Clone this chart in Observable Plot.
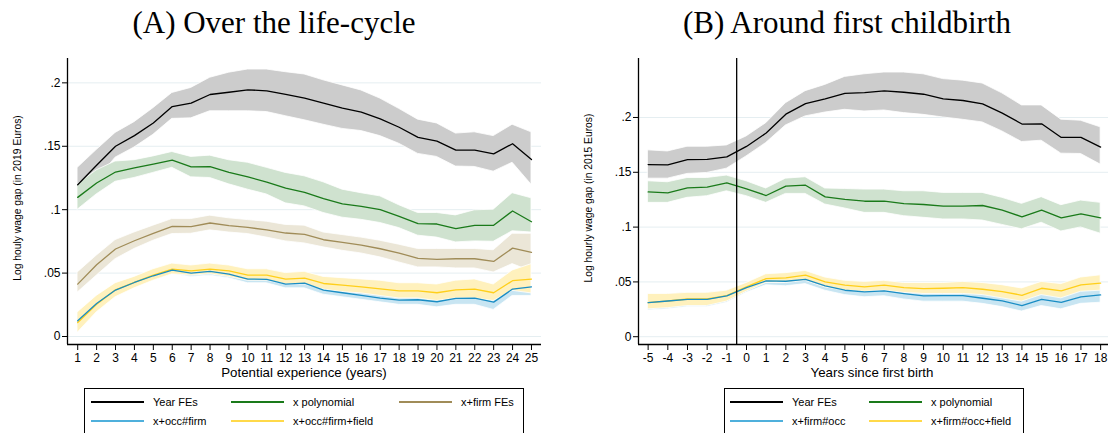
<!DOCTYPE html>
<html><head><meta charset="utf-8">
<script src="https://cdn.jsdelivr.net/npm/d3@7"></script>
<script src="https://cdn.jsdelivr.net/npm/@observablehq/plot@0.6"></script>
<style>
body{margin:0;background:#fff;}
#wrap{position:relative;width:1110px;height:433px;overflow:hidden;font-family:"Liberation Sans",Arial,sans-serif;color:#000;background:#fff;}
.abs{position:absolute;white-space:nowrap;}
.title{font-family:"Liberation Serif","Times New Roman",serif;font-size:31px;line-height:31px;transform:translateX(-50%);}
.xlab{font-size:13.3px;line-height:13.3px;transform:translateX(-50%);}
.ylab{font-size:10.3px;line-height:10.3px;transform:translate(-50%,-50%) rotate(-90deg);}
.legbox{border:1px solid #000;box-sizing:border-box;background:#fff;}
.sw{height:2px;transform:translateY(-50%);}
.lt{font-size:11px;line-height:11px;transform:translateY(-50%);}
svg.plot{position:absolute;top:0;overflow:visible;}
</style></head><body><div id="wrap"></div>
<script>
// ---------- DATA: Panel A (over the life-cycle) ----------
const expL = [1,2,3,4,5,6,7,8,9,10,11,12,13,14,15,16,17,18,19,20,21,22,23,24,25];
const A_year    = [0.1197,0.135,0.150,0.1584,0.1684,0.1813,0.184,0.1908,0.1926,0.1945,0.1937,0.191,0.188,0.184,0.180,0.177,0.1716,0.165,0.157,0.154,0.147,0.147,0.144,0.152,0.1395];
const A_year_lo = [0.107,0.123,0.141,0.149,0.159,0.1716,0.172,0.1776,0.1776,0.1776,0.177,0.1737,0.1705,0.167,0.1637,0.162,0.158,0.152,0.144,0.1416,0.134,0.1337,0.130,0.137,0.1197];
const A_year_hi = [0.133,0.147,0.1605,0.169,0.180,0.192,0.196,0.204,0.208,0.2105,0.2105,0.2084,0.2066,0.202,0.198,0.194,0.1876,0.1795,0.171,0.168,0.160,0.161,0.158,0.167,0.161];
const A_poly    = [0.1097,0.121,0.1297,0.133,0.136,0.139,0.1337,0.134,0.1295,0.1258,0.1218,0.117,0.1137,0.1087,0.1045,0.1026,0.100,0.0947,0.0890,0.0887,0.0850,0.0877,0.0877,0.099,0.0905];
const A_poly_lo = [0.100,0.112,0.122,0.125,0.129,0.133,0.1255,0.125,0.120,0.1158,0.112,0.105,0.1026,0.0974,0.0937,0.092,0.0895,0.0855,0.0795,0.078,0.0742,0.075,0.0747,0.083,0.082];
const A_poly_hi = [0.120,0.131,0.138,0.139,0.142,0.1455,0.1416,0.1426,0.139,0.137,0.133,0.129,0.1263,0.1216,0.1158,0.113,0.1105,0.1035,0.0974,0.0974,0.0955,0.0995,0.100,0.113,0.109];
const A_firm    = [0.0413,0.0566,0.069,0.0755,0.0813,0.0868,0.0866,0.0895,0.0874,0.086,0.084,0.0816,0.0805,0.0763,0.0742,0.0721,0.0692,0.0658,0.0616,0.0608,0.0613,0.0613,0.0592,0.0697,0.0663];
const A_firm_lo = [0.0347,0.0479,0.061,0.069,0.0755,0.0808,0.081,0.0837,0.082,0.0808,0.078,0.075,0.0734,0.0703,0.0676,0.0655,0.0624,0.0584,0.0545,0.0545,0.0537,0.0537,0.0505,0.0571,0.0513];
const A_firm_hi = [0.0505,0.0637,0.076,0.082,0.0874,0.0926,0.0926,0.0953,0.0932,0.0918,0.0905,0.088,0.0874,0.082,0.080,0.078,0.0755,0.0724,0.069,0.069,0.069,0.069,0.068,0.081,0.081];
const A_occ     = [0.0124,0.026,0.0366,0.0426,0.0479,0.0524,0.050,0.0513,0.0492,0.0453,0.045,0.0413,0.0421,0.0366,0.0345,0.0324,0.0303,0.0287,0.029,0.0274,0.030,0.0303,0.0271,0.0374,0.0392];
const A_occ_lo  = [0.006,0.021,0.032,0.039,0.044,0.049,0.047,0.048,0.046,0.042,0.042,0.038,0.038,0.033,0.031,0.029,0.027,0.025,0.025,0.023,0.025,0.025,0.021,0.032,0.032];
const A_occ_hi  = [0.019,0.031,0.041,0.046,0.051,0.056,0.053,0.054,0.052,0.049,0.048,0.045,0.046,0.040,0.038,0.036,0.034,0.032,0.033,0.032,0.035,0.035,0.033,0.043,0.047];
const A_fld     = [0.011,0.0255,0.0368,0.0426,0.0484,0.0532,0.0518,0.0532,0.0518,0.0484,0.0484,0.0453,0.046,0.0418,0.0405,0.0392,0.0376,0.036,0.036,0.0345,0.0368,0.0374,0.0345,0.044,0.0453];
const A_fld_lo  = [0.003,0.019,0.031,0.038,0.044,0.049,0.048,0.049,0.047,0.044,0.044,0.041,0.041,0.037,0.035,0.034,0.032,0.030,0.030,0.028,0.030,0.030,0.028,0.036,0.034];
const A_fld_hi  = [0.019,0.032,0.042,0.047,0.053,0.0575,0.056,0.0575,0.056,0.053,0.053,0.050,0.051,0.047,0.046,0.045,0.044,0.042,0.042,0.041,0.044,0.045,0.041,0.052,0.057];

// ---------- DATA: Panel B (around first childbirth) ----------
const yrsR = [-5,-4,-3,-2,-1,0,1,2,3,4,5,6,7,8,9,10,11,12,13,14,15,16,17,18];
const B_year    = [0.157,0.1567,0.1615,0.1618,0.164,0.1736,0.1858,0.203,0.2127,0.217,0.222,0.2227,0.2242,0.223,0.2212,0.217,0.2155,0.2124,0.204,0.194,0.1942,0.1818,0.1818,0.173];
const B_year_lo = [0.1442,0.1442,0.1485,0.1494,0.1533,0.1645,0.1767,0.1927,0.201,0.2045,0.207,0.2055,0.2064,0.204,0.2024,0.200,0.1979,0.1955,0.1873,0.1776,0.1788,0.167,0.1667,0.157];
const B_year_hi = [0.170,0.169,0.1733,0.1733,0.1745,0.1827,0.1948,0.213,0.224,0.2297,0.237,0.2394,0.241,0.241,0.2394,0.235,0.2336,0.231,0.222,0.211,0.211,0.198,0.197,0.191];
const B_poly    = [0.1321,0.1312,0.1358,0.1364,0.1403,0.1348,0.1288,0.1373,0.1382,0.1276,0.1252,0.1236,0.1236,0.1215,0.1206,0.1191,0.1191,0.1197,0.1155,0.1094,0.1155,0.1085,0.1121,0.1085];
const B_poly_lo = [0.1221,0.1221,0.1267,0.1282,0.1327,0.1282,0.1221,0.1303,0.1303,0.1206,0.117,0.113,0.113,0.110,0.1085,0.107,0.107,0.106,0.102,0.098,0.104,0.096,0.0997,0.094];
const B_poly_hi = [0.1418,0.1409,0.1448,0.1448,0.147,0.1418,0.1352,0.1442,0.1455,0.1352,0.1348,0.1342,0.1342,0.1327,0.1327,0.1312,0.1312,0.1312,0.1267,0.1212,0.1273,0.120,0.1242,0.1221];
const B_occ     = [0.0311,0.0326,0.0341,0.0341,0.0372,0.0448,0.0509,0.0506,0.0524,0.0463,0.0424,0.0409,0.0418,0.0393,0.0372,0.0375,0.0375,0.0351,0.0326,0.0284,0.0341,0.0314,0.0363,0.0381];
const B_occ_lo  = [0.024,0.025,0.027,0.027,0.031,0.040,0.047,0.046,0.048,0.042,0.038,0.036,0.037,0.034,0.032,0.032,0.032,0.030,0.027,0.023,0.028,0.025,0.030,0.031];
const B_occ_hi  = [0.038,0.039,0.040,0.040,0.042,0.049,0.055,0.055,0.057,0.051,0.047,0.046,0.047,0.044,0.042,0.043,0.043,0.040,0.038,0.034,0.040,0.037,0.043,0.045];
const B_fld     = [0.0311,0.0326,0.0344,0.0344,0.0375,0.0454,0.053,0.0537,0.0561,0.050,0.047,0.0454,0.047,0.0448,0.0439,0.0442,0.0448,0.0433,0.0412,0.0378,0.0442,0.0418,0.0473,0.0488];
const B_fld_lo  = [0.025,0.026,0.028,0.028,0.032,0.041,0.049,0.049,0.051,0.045,0.042,0.041,0.042,0.040,0.039,0.039,0.039,0.038,0.035,0.032,0.038,0.035,0.041,0.042];
const B_fld_hi  = [0.039,0.039,0.040,0.040,0.042,0.049,0.057,0.058,0.060,0.054,0.051,0.050,0.051,0.049,0.049,0.049,0.050,0.049,0.047,0.044,0.050,0.048,0.054,0.056];

// ---------- Labels / ticks ----------
const yTicks = [0, 0.05, 0.1, 0.15, 0.2];
const legendA = ["Year FEs", "x polynomial", "x+firm FEs", "x+occ#firm", "x+occ#firm+field"];
const legendB = ["Year FEs", "x polynomial", "x+firm#occ", "x+firm#occ+field"];
const titleA = "(A) Over the life-cycle";
const titleB = "(B) Around first childbirth";
const xTitleA = "Potential experience (years)";
const xTitleB = "Years since first birth";
const yTitleA = "Log houly wage gap (in 2019 Euros)";
const yTitleB = "Log hourly wage gap (in 2015 Euros)";

// ---------- Styles ----------
const ST = {
  year: {line: "#000000", band: "#cccccc"},
  poly: {line: "#1a7a1a", band: "#cfe2cf"},
  firm: {line: "#a08c58", band: "#ebe6d7"},
  occ:  {line: "#1a8dc4", band: "#c8e5f2"},
  fld:  {line: "#ffcf1a", band: "#fff1bd"}
};
const GRID = "#e5eef1";
const fmt = d => d === 0 ? "0" : String(d).replace(/^0/, "");

function panel(o) {
  const marks = [Plot.gridY(yTicks, {stroke: GRID, strokeOpacity: 1, strokeWidth: 1})];
  for (const s of o.series) {
    const rows = o.x.map((x, i) => ({x, lo: s.lo[i], hi: s.hi[i]}));
    marks.push(Plot.areaY(rows, {x: "x", y1: "lo", y2: "hi", fill: s.st.band, fillOpacity: 1, stroke: "#ffffff", strokeWidth: 0.8}));
  }
  for (const s of o.lineOrder) {
    const rows = o.x.map((x, i) => ({x, y: s.y[i]}));
    marks.push(Plot.lineY(rows, {x: "x", y: "y", stroke: s.st.line, strokeWidth: 1.3}));
  }
  if (o.vline != null) marks.push(Plot.ruleX([o.vline], {stroke: "#000", strokeWidth: 1.3}));
  marks.push(Plot.ruleX([o.xDomain[0]], {stroke: "#000", strokeWidth: 1.3}));
  marks.push(Plot.ruleY([o.yDomain[0]], {stroke: "#000", strokeWidth: 1.3}));
  marks.push(Plot.axisY(yTicks, {tickSize: 5, tickPadding: 2, tickFormat: fmt, fontSize: 12, label: null}));
  marks.push(Plot.axisX(o.x, {tickSize: 6, tickPadding: 3, tickFormat: d => String(d), fontSize: 12, label: null}));
  const svg = Plot.plot({
    width: 555, height: 433,
    marginTop: 58, marginBottom: 89, marginLeft: o.marginLeft, marginRight: o.marginRight,
    x: {domain: o.xDomain, axis: null},
    y: {domain: o.yDomain, axis: null},
    style: {fontFamily: "'Liberation Sans', Arial, sans-serif", color: "#000", background: "transparent", overflow: "visible"},
    marks
  });
  svg.classList.add("plot");
  svg.style.left = o.left + "px";
  return svg;
}

const wrap = document.getElementById("wrap");

const sA = {
  year: {y: A_year, lo: A_year_lo, hi: A_year_hi, st: ST.year},
  poly: {y: A_poly, lo: A_poly_lo, hi: A_poly_hi, st: ST.poly},
  firm: {y: A_firm, lo: A_firm_lo, hi: A_firm_hi, st: ST.firm},
  occ:  {y: A_occ,  lo: A_occ_lo,  hi: A_occ_hi,  st: ST.occ},
  fld:  {y: A_fld,  lo: A_fld_lo,  hi: A_fld_hi,  st: ST.fld}
};
const sB = {
  year: {y: B_year, lo: B_year_lo, hi: B_year_hi, st: ST.year},
  poly: {y: B_poly, lo: B_poly_lo, hi: B_poly_hi, st: ST.poly},
  occ:  {y: B_occ,  lo: B_occ_lo,  hi: B_occ_hi,  st: ST.occ},
  fld:  {y: B_fld,  lo: B_fld_lo,  hi: B_fld_hi,  st: ST.fld}
};

wrap.appendChild(panel({
  left: 0, x: expL, marginLeft: 67, marginRight: 14,
  xDomain: [0.46, 25.53], yDomain: [-0.0063, 0.2192],
  series: [sA.year, sA.poly, sA.firm, sA.occ, sA.fld],
  lineOrder: [sA.year, sA.poly, sA.firm, sA.fld, sA.occ]
}));
wrap.appendChild(panel({
  left: 555, x: yrsR, marginLeft: 83, marginRight: 2,
  xDomain: [-5.49, 18.4], yDomain: [-0.0071, 0.2538], vline: -0.5,
  series: [sB.year, sB.poly, sB.occ, sB.fld],
  lineOrder: [sB.year, sB.poly, sB.fld, sB.occ]
}));

function addText(cls, text, left, top) {
  const d = document.createElement("div");
  d.className = "abs " + cls;
  d.textContent = text;
  d.style.left = left + "px";
  d.style.top = top + "px";
  wrap.appendChild(d);
  return d;
}
addText("title", titleA, 274, 7);
addText("title", titleB, 847, 7);
addText("xlab", xTitleA, 304, 366);
addText("xlab", xTitleB, 872, 366);
addText("ylab", yTitleA, 18, 198);
addText("ylab", yTitleB, 589, 198);

function legend(box, items) {
  const b = document.createElement("div");
  b.className = "abs legbox";
  Object.assign(b.style, {left: box.left + "px", top: box.top + "px", width: box.width + "px", height: "70px"});
  wrap.appendChild(b);
  items.forEach(it => {
    const sw = document.createElement("div");
    sw.className = "abs sw";
    Object.assign(sw.style, {left: it.x + "px", top: it.y + "px", width: "53px", background: it.color});
    wrap.appendChild(sw);
    addText("lt", it.label, it.x + 62, it.y);
  });
}
const legColA = [91, 231, 399];
legend({left: 84, top: 388, width: 440}, [
  {label: legendA[0], color: ST.year.line, x: legColA[0], y: 402},
  {label: legendA[1], color: ST.poly.line, x: legColA[1], y: 402},
  {label: legendA[2], color: ST.firm.line, x: legColA[2], y: 402},
  {label: legendA[3], color: "#4fb0dc", x: legColA[0], y: 421},
  {label: legendA[4], color: "#ffd94a", x: legColA[1], y: 421}
]);
const legColB = [730, 869];
legend({left: 724, top: 388, width: 300}, [
  {label: legendB[0], color: ST.year.line, x: legColB[0], y: 402},
  {label: legendB[1], color: ST.poly.line, x: legColB[1], y: 402},
  {label: legendB[2], color: "#4fb0dc", x: legColB[0], y: 421},
  {label: legendB[3], color: "#ffd94a", x: legColB[1], y: 421}
]);
</script></body></html>
